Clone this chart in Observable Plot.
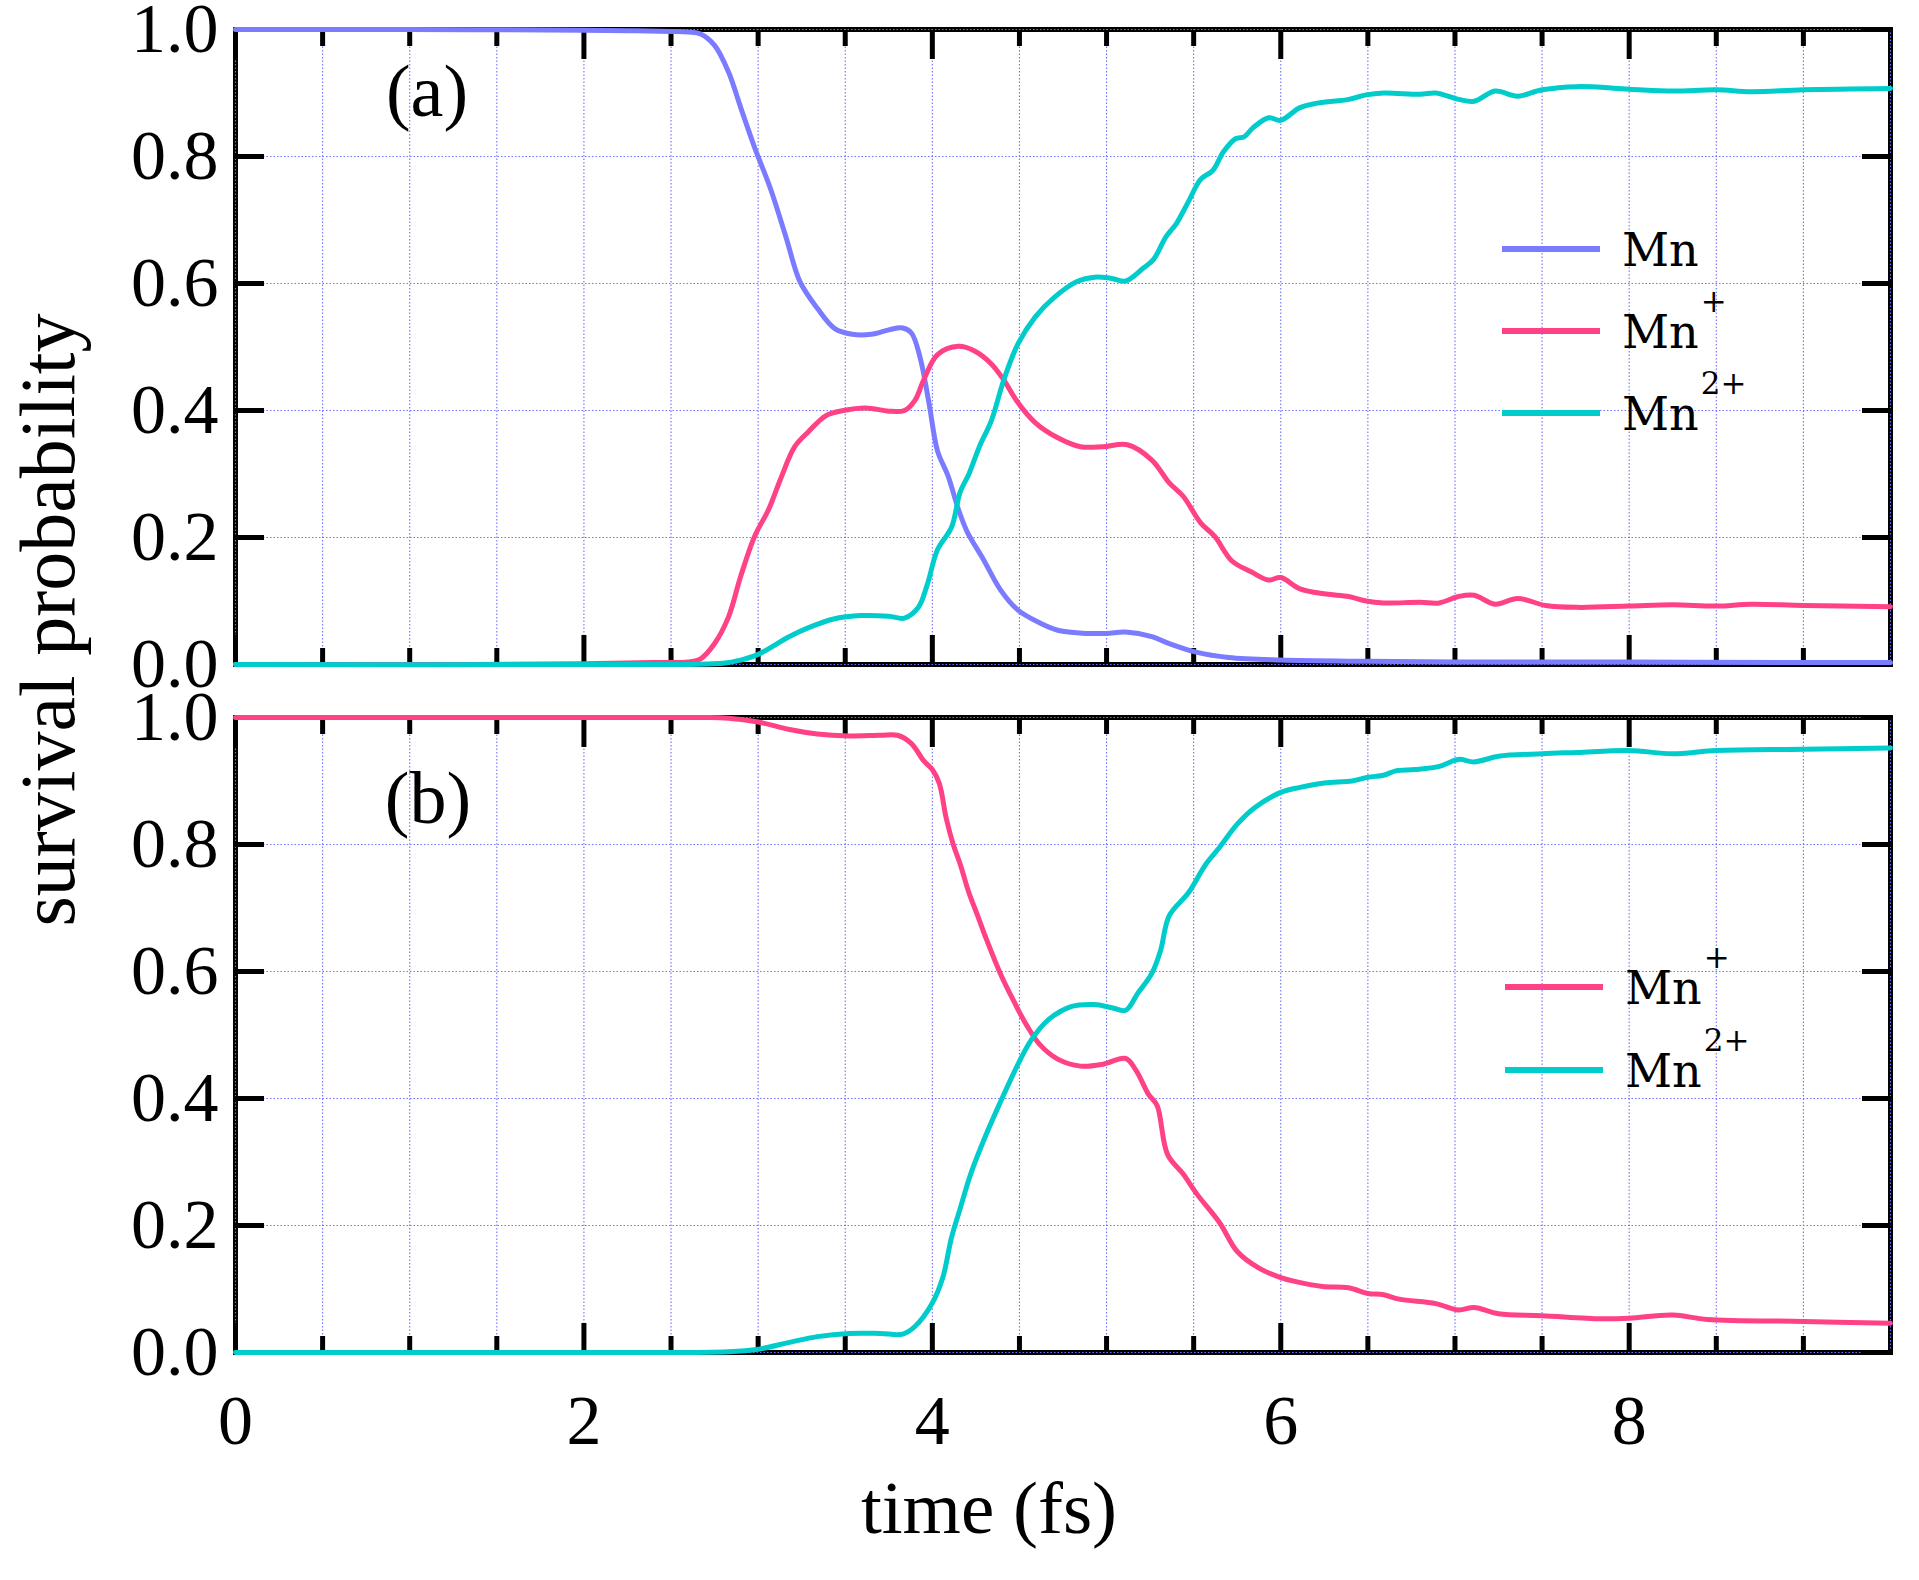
<!DOCTYPE html>
<html>
<head>
<meta charset="utf-8">
<script src="https://cdn.jsdelivr.net/npm/d3@7"></script>
<script src="https://cdn.jsdelivr.net/npm/@observablehq/plot@0.6"></script>
<style>
  body { margin: 0; background: #fff; }
  #wrap { position: relative; width: 1919px; height: 1580px; background: #fff; overflow: hidden; }
  #wrap > svg { position: absolute; left: 0; overflow: visible; }
</style>
</head>
<body>
<div id="wrap"></div>
<script>
// ---------- series names / colours ----------
const seriesNames = ["Mn", "Mn+", "Mn2+"];
const seriesColors = ["#7b7bff", "#ff4186", "#00cccc"];
const legendBase = ["Mn", "Mn", "Mn"];
const legendSup = ["", "+", "2+"];

// ---------- tick values ----------
const xMajorTicks = [0, 2, 4, 6, 8];
const xMinorTicks = [0.5, 1, 1.5, 2.5, 3, 3.5, 4.5, 5, 5.5, 6.5, 7, 7.5, 8.5, 9];
const xGridTicks = [0, 0.5, 1, 1.5, 2, 2.5, 3, 3.5, 4, 4.5, 5, 5.5, 6, 6.5, 7, 7.5, 8, 8.5, 9, 9.5];
const yTicks = [0, 0.2, 0.4, 0.6, 0.8, 1.0];

// ---------- panel (a) ----------
const aMnTime = [0, 1.0, 2.0, 2.3, 2.5, 2.6, 2.67, 2.75, 2.83, 2.90, 2.98, 3.07, 3.16, 3.24, 3.34, 3.44, 3.54, 3.65, 3.75, 3.83, 3.88, 3.93, 3.98, 4.03, 4.09, 4.15, 4.20, 4.29, 4.39, 4.49, 4.62, 4.72, 4.88, 5.00, 5.11, 5.26, 5.36, 5.52, 5.70, 6.0, 6.5, 7.0, 8.0, 9.0, 9.5];
const aMnProb = [1.0, 1.0, 0.999, 0.998, 0.997, 0.996, 0.993, 0.975, 0.933, 0.877, 0.814, 0.75, 0.673, 0.603, 0.561, 0.529, 0.52, 0.52, 0.527, 0.530, 0.522, 0.483, 0.413, 0.336, 0.297, 0.244, 0.209, 0.167, 0.118, 0.086, 0.065, 0.054, 0.049, 0.049, 0.051, 0.044, 0.033, 0.019, 0.011, 0.007, 0.005, 0.004, 0.004, 0.003, 0.003];

const aMn1Time = [0, 1.0, 2.0, 2.4, 2.6, 2.67, 2.75, 2.83, 2.90, 2.98, 3.06, 3.13, 3.21, 3.29, 3.39, 3.49, 3.62, 3.75, 3.84, 3.90, 3.95, 4.03, 4.15, 4.24, 4.34, 4.41, 4.49, 4.59, 4.72, 4.85, 4.98, 5.12, 5.26, 5.36, 5.44, 5.54, 5.62, 5.72, 5.83, 5.93, 6.0, 6.11, 6.26, 6.39, 6.49, 6.59, 6.80, 6.91, 7.02, 7.11, 7.23, 7.36, 7.52, 7.70, 8.0, 8.25, 8.5, 8.7, 9.0, 9.5];
const aMn1Prob = [0, 0, 0.001, 0.003, 0.004, 0.009, 0.033, 0.075, 0.139, 0.202, 0.244, 0.293, 0.343, 0.367, 0.392, 0.40, 0.404, 0.399, 0.40, 0.416, 0.448, 0.488, 0.501, 0.494, 0.473, 0.448, 0.413, 0.381, 0.357, 0.343, 0.343, 0.346, 0.322, 0.286, 0.265, 0.223, 0.202, 0.163, 0.146, 0.133, 0.137, 0.119, 0.111, 0.107, 0.10, 0.097, 0.098, 0.097, 0.107, 0.109, 0.095, 0.104, 0.093, 0.090, 0.092, 0.094, 0.092, 0.095, 0.093, 0.091];

const aMn2Time = [0, 2.0, 2.8, 2.9, 3.0, 3.18, 3.29, 3.44, 3.59, 3.75, 3.84, 3.92, 3.97, 4.03, 4.11, 4.16, 4.21, 4.27, 4.34, 4.41, 4.49, 4.59, 4.70, 4.83, 4.93, 5.03, 5.11, 5.21, 5.27, 5.34, 5.40, 5.47, 5.54, 5.61, 5.67, 5.74, 5.79, 5.84, 5.93, 6.0, 6.11, 6.21, 6.39, 6.49, 6.59, 6.80, 6.89, 7.02, 7.11, 7.23, 7.36, 7.50, 7.70, 8.0, 8.25, 8.5, 8.7, 9.0, 9.5];
const aMn2Prob = [0, 0, 0.002, 0.007, 0.016, 0.044, 0.058, 0.072, 0.077, 0.076, 0.073, 0.09, 0.125, 0.181, 0.216, 0.272, 0.30, 0.343, 0.385, 0.448, 0.504, 0.547, 0.578, 0.603, 0.61, 0.608, 0.604, 0.624, 0.638, 0.673, 0.694, 0.729, 0.764, 0.778, 0.807, 0.828, 0.831, 0.845, 0.861, 0.857, 0.877, 0.884, 0.89, 0.897, 0.90, 0.898, 0.90, 0.89, 0.887, 0.903, 0.895, 0.905, 0.91, 0.906, 0.903, 0.905, 0.902, 0.905, 0.907];

// ---------- panel (b) ----------
const bMn1Time = [0, 2.0, 2.67, 2.83, 3.0, 3.18, 3.34, 3.52, 3.70, 3.80, 3.88, 3.95, 4.0, 4.04, 4.08, 4.12, 4.16, 4.21, 4.26, 4.31, 4.39, 4.47, 4.54, 4.62, 4.72, 4.85, 4.98, 5.11, 5.17, 5.24, 5.29, 5.35, 5.44, 5.52, 5.65, 5.75, 5.88, 6.0, 6.08, 6.24, 6.39, 6.50, 6.59, 6.68, 6.89, 7.02, 7.11, 7.25, 7.50, 7.84, 8.0, 8.25, 8.45, 9.0, 9.5];
const bMn1Prob = [1.0, 1.0, 1.0, 0.999, 0.993, 0.981, 0.974, 0.971, 0.972, 0.972, 0.959, 0.932, 0.918, 0.896, 0.841, 0.80, 0.769, 0.724, 0.688, 0.651, 0.597, 0.552, 0.516, 0.484, 0.462, 0.451, 0.454, 0.463, 0.444, 0.407, 0.389, 0.312, 0.281, 0.249, 0.204, 0.159, 0.132, 0.118, 0.112, 0.104, 0.102, 0.093, 0.091, 0.084, 0.077, 0.067, 0.071, 0.061, 0.058, 0.053, 0.054, 0.059, 0.052, 0.049, 0.046];

const bMn2Time = [0, 2.0, 2.83, 3.0, 3.18, 3.34, 3.52, 3.70, 3.83, 3.90, 4.0, 4.06, 4.11, 4.16, 4.22, 4.31, 4.39, 4.49, 4.57, 4.67, 4.80, 4.93, 5.03, 5.11, 5.18, 5.26, 5.31, 5.36, 5.47, 5.57, 5.65, 5.75, 5.85, 6.0, 6.11, 6.25, 6.41, 6.50, 6.59, 6.66, 6.77, 6.91, 7.02, 7.11, 7.25, 7.50, 7.70, 8.0, 8.25, 8.5, 9.0, 9.5];
const bMn2Prob = [0, 0, 0.001, 0.005, 0.016, 0.025, 0.03, 0.03, 0.029, 0.041, 0.078, 0.118, 0.181, 0.227, 0.281, 0.344, 0.394, 0.453, 0.493, 0.525, 0.545, 0.548, 0.543, 0.539, 0.566, 0.597, 0.633, 0.688, 0.724, 0.769, 0.796, 0.832, 0.858, 0.882, 0.890, 0.897, 0.90, 0.906, 0.909, 0.916, 0.918, 0.923, 0.934, 0.930, 0.939, 0.943, 0.945, 0.948, 0.943, 0.948, 0.95, 0.952];

// ---------- build tables ----------
function series(name, T, V) { return T.map((t, i) => ({ t, p: V[i], s: name })); }
const dataA = [
  ...series("Mn", aMnTime, aMnProb),
  ...series("Mn+", aMn1Time, aMn1Prob),
  ...series("Mn2+", aMn2Time, aMn2Prob)
];
const dataB = [
  ...series("Mn+", bMn1Time, bMn1Prob),
  ...series("Mn2+", bMn2Time, bMn2Prob)
];

const serif = "'Liberation Serif', 'Times New Roman', serif";
const gridColor = "#7070ff";

function panel(data, { height, marginTop, marginBottom, xLabels }) {
  const tickStyle = { fill: "none", label: null, stroke: "#000", strokeWidth: 5 };
  const gridStyle = { stroke: gridColor, strokeOpacity: 1, strokeWidth: 1.1, strokeDasharray: "1.5,2" };
  return Plot.plot({
    width: 1919, height,
    marginLeft: 235, marginRight: 29, marginTop, marginBottom,
    x: { domain: [0, 9.5] },
    y: { domain: [0, 1] },
    color: { domain: seriesNames, range: seriesColors },
    style: { background: "transparent", overflow: "visible", fontFamily: serif, fontSize: "70px", color: "#000" },
    marks: [
      Plot.frame({ stroke: "#000", strokeWidth: 5 }),
      Plot.gridX(xGridTicks, gridStyle),
      Plot.gridY(yTicks, gridStyle),
      Plot.axisX(xMajorTicks, { anchor: "bottom", tickSize: 29, dy: -29, ...tickStyle }),
      Plot.axisX(xMajorTicks, { anchor: "top", tickSize: 29, dy: 29, ...tickStyle }),
      Plot.axisX(xMinorTicks, { anchor: "bottom", tickSize: 16, dy: -16, ...tickStyle }),
      Plot.axisX(xMinorTicks, { anchor: "top", tickSize: 16, dy: 16, ...tickStyle }),
      Plot.axisY(yTicks, { anchor: "left", tickSize: 29, dx: 29, ...tickStyle }),
      Plot.axisY(yTicks, { anchor: "right", tickSize: 29, dx: -29, ...tickStyle }),
      Plot.axisY(yTicks, { anchor: "left", tickSize: 0, tickPadding: 17, tickFormat: d3.format(".1f"), label: null, fontSize: 70 }),
      xLabels ? Plot.axisX(xMajorTicks, { anchor: "bottom", tickSize: 0, tickPadding: 42, tickFormat: d => String(d), label: null, fontSize: 70 }) : null,
      Plot.line(data, { x: "t", y: "p", z: "s", stroke: "s", strokeWidth: 5, curve: "catmull-rom" })
    ]
  });
}

const wrap = document.getElementById("wrap");
const plotA = panel(dataA, { height: 700, marginTop: 29, marginBottom: 36, xLabels: false });
plotA.style.top = "0px";
wrap.appendChild(plotA);
const plotB = panel(dataB, { height: 900, marginTop: 37, marginBottom: 228, xLabels: true });
plotB.style.top = "680px";
wrap.appendChild(plotB);

// ---------- overlay: titles, panel labels, legends ----------
const ov = d3.select(wrap).append("svg")
  .attr("width", 1919).attr("height", 1580)
  .style("top", "0px").style("pointer-events", "none");

ov.append("text")
  .attr("transform", "translate(74,620) rotate(-90)")
  .attr("text-anchor", "middle")
  .style("font-family", serif).style("font-size", "78px")
  .text("survival probability");

ov.append("text")
  .attr("x", 989).attr("y", 1533)
  .attr("text-anchor", "middle")
  .style("font-family", serif).style("font-size", "75px")
  .text("time (fs)");

ov.append("text").attr("x", 427).attr("y", 116).attr("text-anchor", "middle")
  .style("font-family", serif).style("font-size", "74px").text("(a)");
ov.append("text").attr("x", 428).attr("y", 823).attr("text-anchor", "middle")
  .style("font-family", serif).style("font-size", "74px").text("(b)");

function legend(indices, x0, y0, step) {
  indices.forEach((k, i) => {
    const y = y0 + i * step;
    ov.append("line")
      .attr("x1", x0).attr("x2", x0 + 98).attr("y1", y).attr("y2", y)
      .attr("stroke", seriesColors[k]).attr("stroke-width", 6);
    const t = ov.append("text")
      .attr("x", x0 + 120).attr("y", y + 17)
      .style("font-family", "'DejaVu Serif', serif").style("font-size", "46px")
      .text(legendBase[k]);
    if (legendSup[k]) {
      t.append("tspan").attr("dx", 2).attr("dy", -36)
        .style("font-size", "31px").text(legendSup[k]);
    }
  });
}
legend([0, 1, 2], 1502, 249, 82);
legend([1, 2], 1505, 987, 83);
</script>
</body>
</html>
